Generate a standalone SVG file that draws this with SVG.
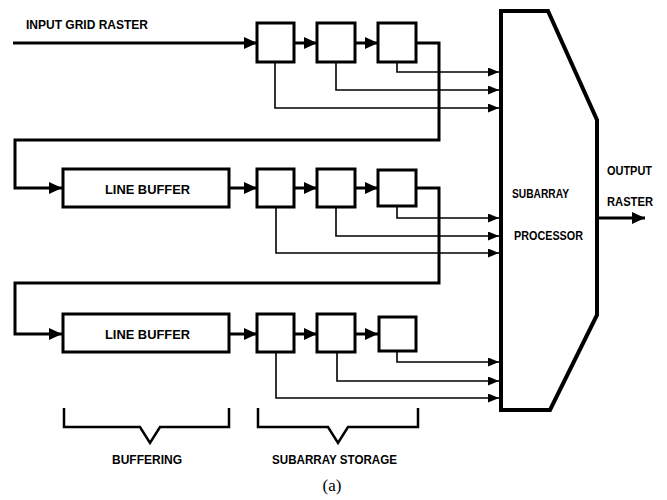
<svg xmlns="http://www.w3.org/2000/svg" width="667" height="500" viewBox="0 0 667 500">
<style>
.box{fill:#fff;stroke:#000;stroke-width:3}
.proc{fill:#fff;stroke:#000;stroke-width:4;stroke-linejoin:miter}
.main{fill:none;stroke:#000;stroke-width:3}
.tap{fill:none;stroke:#000;stroke-width:1.6}
.br{fill:none;stroke:#000;stroke-width:2.5}
.t{font-family:"Liberation Sans",Arial,sans-serif;font-weight:bold;font-size:12.5px;fill:#000}
.cap{font-family:"Liberation Serif","Times New Roman",serif;font-size:17px;fill:#000}
</style>
<defs>
<marker id="big" markerUnits="userSpaceOnUse" markerWidth="13" markerHeight="12" refX="13" refY="6" orient="auto"><path d="M0,0 L13,6 L0,12 z" fill="#000"/></marker>
<marker id="sm" markerUnits="userSpaceOnUse" markerWidth="11" markerHeight="9" refX="11" refY="4.5" orient="auto"><path d="M0,0 L11,4.5 L0,9 z" fill="#000"/></marker>
</defs>
<rect width="667" height="500" fill="#fff"/>

<g id="connectors">
<!-- row 1 -->
<path class="main" d="M13,43 H257" marker-end="url(#big)"/>
<path class="main" d="M294,43 H317" marker-end="url(#big)"/>
<path class="main" d="M355,43 H378" marker-end="url(#big)"/>
<path class="main" d="M416,43 H439 V140 H15 V188 H62" marker-end="url(#big)"/>
<path class="tap" d="M397,62 V72 H499" marker-end="url(#sm)"/>
<path class="tap" d="M336,62 V90 H499" marker-end="url(#sm)"/>
<path class="tap" d="M275,62 V108 H499" marker-end="url(#sm)"/>
<!-- row 2 -->
<path class="main" d="M229,188 H257" marker-end="url(#big)"/>
<path class="main" d="M294,188 H317" marker-end="url(#big)"/>
<path class="main" d="M355,188 H378" marker-end="url(#big)"/>
<path class="main" d="M416,188 H439 V283 H15 V334 H62" marker-end="url(#big)"/>
<path class="tap" d="M397,207 V218 H499" marker-end="url(#sm)"/>
<path class="tap" d="M336,207 V236 H499" marker-end="url(#sm)"/>
<path class="tap" d="M276,207 V253 H499" marker-end="url(#sm)"/>
<!-- row 3 -->
<path class="main" d="M229,334 H257" marker-end="url(#big)"/>
<path class="main" d="M294,334 H317" marker-end="url(#big)"/>
<path class="main" d="M355,334 H378" marker-end="url(#big)"/>
<path class="tap" d="M397,351 V362 H499" marker-end="url(#sm)"/>
<path class="tap" d="M337,352 V381 H499" marker-end="url(#sm)"/>
<path class="tap" d="M276,352 V398 H499" marker-end="url(#sm)"/>
<!-- output -->
<path class="main" d="M597,218 H645" marker-end="url(#big)"/>
</g>

<text class="t" x="26" y="29" textLength="122" lengthAdjust="spacingAndGlyphs">INPUT GRID RASTER</text>

<g id="r1b1"><rect class="box" x="257" y="23" width="37" height="39"/></g>
<g id="r1b2"><rect class="box" x="317" y="23" width="38" height="39"/></g>
<g id="r1b3"><rect class="box" x="378" y="23" width="38" height="39"/></g>

<g id="lb2"><rect class="box" x="63" y="169" width="166" height="38"/><text class="t" x="105" y="194" textLength="85" lengthAdjust="spacingAndGlyphs">LINE BUFFER</text></g>
<g id="r2b1"><rect class="box" x="257" y="169" width="37" height="38"/></g>
<g id="r2b2"><rect class="box" x="317" y="169" width="38" height="38"/></g>
<g id="r2b3"><rect class="box" x="378" y="170" width="38" height="36"/></g>

<g id="lb3"><rect class="box" x="63" y="314" width="166" height="38"/><text class="t" x="105" y="339" textLength="85" lengthAdjust="spacingAndGlyphs">LINE BUFFER</text></g>
<g id="r3b1"><rect class="box" x="257" y="314" width="37" height="38"/></g>
<g id="r3b2"><rect class="box" x="317" y="314" width="38" height="38"/></g>
<g id="r3b3"><rect class="box" x="379" y="317" width="37" height="34"/></g>

<g id="processor">
<path class="proc" d="M501,11 H548 L597,120 V315 L550,410 H501 Z"/>
<text class="t" x="512" y="198" textLength="57" lengthAdjust="spacingAndGlyphs">SUBARRAY</text>
<text class="t" x="514" y="240" textLength="69" lengthAdjust="spacingAndGlyphs">PROCESSOR</text>
</g>

<g id="output">
<text class="t" x="607" y="175" textLength="45" lengthAdjust="spacingAndGlyphs">OUTPUT</text>
<text class="t" x="607" y="206" textLength="46" lengthAdjust="spacingAndGlyphs">RASTER</text>
</g>

<g id="buffering">
<path class="br" d="M64,408 V427 H140 L150,443 L160,427 H229 V408"/>
<text class="t" x="112" y="464" textLength="70" lengthAdjust="spacingAndGlyphs">BUFFERING</text>
</g>
<g id="storage">
<path class="br" d="M258,408 V427 H328 L338,443 L348,427 H418 V408"/>
<text class="t" x="272" y="464" textLength="125" lengthAdjust="spacingAndGlyphs">SUBARRAY STORAGE</text>
</g>

<text class="cap" x="332" y="491" text-anchor="middle">(a)</text>
</svg>
